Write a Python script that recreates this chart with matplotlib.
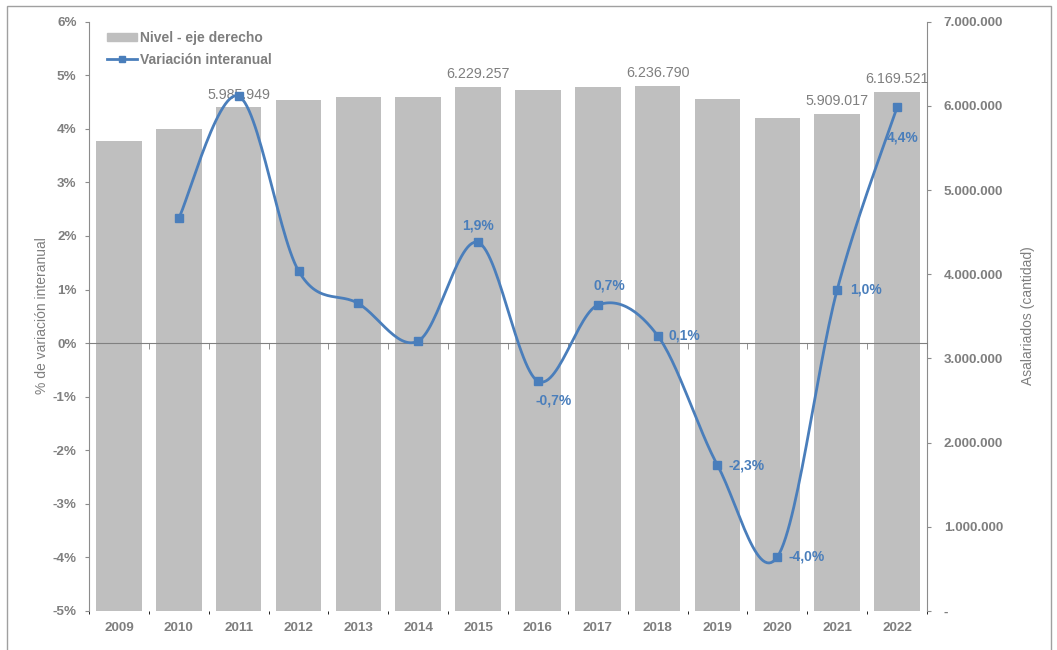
import numpy as np
import matplotlib.pyplot as plt
from matplotlib.patches import Rectangle
from matplotlib.ticker import FuncFormatter

plt.rcParams['font.family'] = ['Liberation Sans', 'DejaVu Sans']

years = ['2009', '2010', '2011', '2012', '2013', '2014', '2015',
         '2016', '2017', '2018', '2019', '2020', '2021', '2022']
asalariados = [5585000, 5720000, 5985949, 6069000, 6108000, 6108000, 6229257,
               6184000, 6220000, 6236790, 6084000, 5851000, 5909017, 6169521]
variacion = [np.nan, 2.33, 4.61, 1.35, 0.74, 0.04, 1.88,
             -0.71, 0.71, 0.14, -2.28, -3.99, 1.00, 4.40]

# which bars / points carry a data label
bar_labels = ['2011', '2015', '2018', '2021', '2022']
line_labels = {'2015': (0, 12, 'center'), '2016': (11, -14, 'center'),
               '2017': (8, 14, 'center'), '2018': (8, 0, 'left'),
               '2019': (8, 0, 'left'), '2020': (8, 0, 'left'),
               '2021': (9, 0, 'left'), '2022': (4, -22, 'center')}

GREY = '#7f7f7f'
BLUE = '#4a7ebb'
BAR = '#bfbfbf'


def smooth(xs, ys, n=30):
    # excel style smoothed line: bezier through the points
    pts = np.column_stack([xs, ys])
    out = []
    for i in range(len(pts) - 1):
        p0 = pts[max(i - 1, 0)]
        p1 = pts[i]
        p2 = pts[i + 1]
        p3 = pts[min(i + 2, len(pts) - 1)]
        c1 = p1 + (p2 - p0) / 6
        c2 = p2 - (p3 - p1) / 6
        t = np.linspace(0, 1, n)[:, None]
        seg = (1 - t)**3 * p1 + 3 * (1 - t)**2 * t * c1 + 3 * (1 - t) * t**2 * c2 + t**3 * p2
        out.append(seg if i == 0 else seg[1:])
    return np.vstack(out)


fig = plt.figure(figsize=(10.57, 6.5), dpi=100)
ax = fig.add_axes([89 / 1057, 1 - 611 / 650, 838 / 1057, 589.3 / 650])
ax2 = ax.twinx()
ax.set_zorder(ax2.get_zorder() + 1)
ax.patch.set_visible(False)

x = np.arange(len(years))

# bars (right axis)
ax2.bar(x, asalariados, width=0.76, color=BAR, zorder=1)
ax2.set_ylim(0, 7000000)
ax2.set_yticks(np.arange(0, 7000001, 1000000))
ax2.yaxis.set_major_formatter(FuncFormatter(
    lambda v, p: '-' if v == 0 else f'{int(v):,}'.replace(',', '.')))
for i, y in enumerate(years):
    if y in bar_labels:
        ax2.annotate(f'{asalariados[i]:,}'.replace(',', '.'), (x[i], asalariados[i]),
                     xytext=(0, 9), textcoords='offset points', ha='center',
                     va='center', color=GREY, fontsize=10.3)

# year labels from the twin axis at the bottom
ax2.xaxis.set_visible(True)
ax2.set_xticks(x)
ax2.set_xticklabels(years)
ax2.tick_params(axis='x', length=0, pad=8, labelsize=9.7, labelcolor=GREY)
ax2.tick_params(axis='y', direction='out', length=3, pad=9, labelsize=9.7,
                labelcolor=GREY, color='#8c8c8c')
for lbl in ax2.get_xticklabels() + ax2.get_yticklabels():
    lbl.set_fontweight('bold')
for s in ['top', 'bottom', 'left']:
    ax2.spines[s].set_visible(False)
ax2.spines['right'].set_color('#8c8c8c')

# line (left axis)
xv = x[1:]
yv = np.array(variacion[1:])
curve = smooth(xv, yv)
ax.plot(curve[:, 0], curve[:, 1], color=BLUE, lw=2, zorder=3)
ax.plot(xv, yv, 's', color=BLUE, ms=5.5, zorder=4)
for i, y in enumerate(years):
    if y in line_labels:
        dx, dy, ha = line_labels[y]
        ax.annotate(f'{variacion[i]:.1f}%'.replace('.', ','), (x[i], variacion[i]),
                    xytext=(dx, dy), textcoords='offset points', ha=ha,
                    va='center', color=BLUE, fontsize=10, fontweight='bold')

ax.set_xlim(-0.5, 13.5)
ax.set_ylim(-5, 6)
ax.set_yticks(np.arange(-5, 7, 1))
ax.yaxis.set_major_formatter(FuncFormatter(lambda v, p: f'{int(v)}%'))
ax.tick_params(axis='y', direction='out', length=3, pad=6, labelsize=9.7,
               labelcolor=GREY, color='#8c8c8c')
for lbl in ax.get_yticklabels():
    lbl.set_fontweight('bold')

# axis line at 0% with marks between categories
ax.spines['bottom'].set_position(('data', 0))
ax.spines['bottom'].set_color('#808080')
ax.set_xticks(x)
ax.set_xticks(np.arange(-0.5, 14, 1), minor=True)
ax.tick_params(axis='x', which='major', length=0, labelbottom=False)
ax.tick_params(axis='x', which='minor', direction='out', length=4, color='#808080')
ax.spines['left'].set_color('#8c8c8c')
for s in ['top', 'right']:
    ax.spines[s].set_visible(False)

fig.text(42 / 1057, 1 - 316 / 650, '% de variación interanual', rotation=90,
         ha='center', va='center', color=GREY, fontsize=10)
fig.text(1028 / 1057, 1 - 316 / 650, 'Asalariados (cantidad)', rotation=90,
         ha='center', va='center', color=GREY, fontsize=10)

# legend
h1 = plt.Rectangle((0, 0), 1, 1, color=BAR)
h2, = plt.plot([], [], color=BLUE, lw=2, marker='s', ms=5)
leg = ax.legend([h1, h2], ['Nivel - eje derecho', 'Variación interanual'],
                loc='upper left', bbox_to_anchor=(0.022, 0.985), frameon=False,
                borderpad=0, borderaxespad=0, handlelength=2.1, handleheight=0.5,
                handletextpad=0.25, labelspacing=0.6, prop={'size': 10, 'weight': 'bold'})
for t in leg.get_texts():
    t.set_color(GREY)

# outer frame of the picture
fig.add_artist(Rectangle((7 / 1057, -0.01), 1044 / 1057, 1 - 6 / 650 + 0.01,
                         transform=fig.transFigure, fill=False, ec='#a0a0a0', lw=1))

fig.savefig('out.png', dpi=100)
